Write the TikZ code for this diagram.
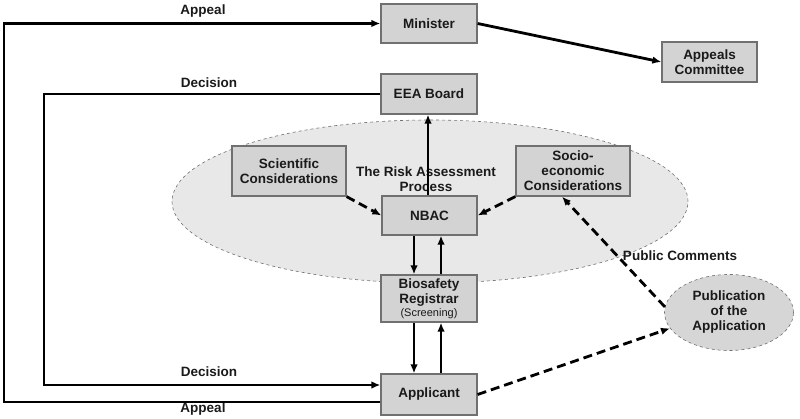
\documentclass[tikz,border=0pt]{standalone}
\usepackage{fontspec}
\setmainfont{Liberation Sans}
\usetikzlibrary{arrows.meta,shapes.geometric}
\definecolor{boxfill}{HTML}{D3D3D3}
\definecolor{boxline}{HTML}{707070}
\definecolor{ellfill}{HTML}{E8E8E8}
\definecolor{pubfill}{HTML}{D6D6D6}
\definecolor{txt}{HTML}{1A1A1A}
\tikzset{
  box/.style={draw=boxline, fill=boxfill, line width=1.2pt, inner sep=0pt, align=center,
    text=txt, font=\fontsize{13.5}{15}\selectfont\bfseries},
  lbl/.style={text=txt, font=\fontsize{13.5}{15}\selectfont\bfseries, inner sep=0pt, align=center},
  arr/.style={line width=2.8pt, -{Latex[length=9pt,width=7.5pt]}},
  darr/.style={line width=2.8pt, dash pattern=on 9pt off 5pt, -{Latex[length=9pt,width=7.5pt]}},
}
\begin{document}
\begin{tikzpicture}[x=1pt,y=-1pt]
\useasboundingbox (0,0) rectangle (800,419);
% big ellipse
\node[ellipse, draw=boxline, fill=ellfill, dashed, line width=0.6pt, minimum width=516pt, minimum height=163pt, inner sep=0pt] (risk) at (430,201.5) {};
% boxes
\node[box, minimum width=96pt, minimum height=39pt] (min) at (429,23.5) {Minister};
\node[box, minimum width=95pt, minimum height=40pt] (com) at (709.5,62) {Appeals\\Committee};
\node[box, minimum width=96pt, minimum height=40pt] (eea) at (429,94) {EEA Board};
\node[box, minimum width=114pt, minimum height=50pt] (sci) at (289,171) {Scientific\\Considerations};
\node[box, minimum width=114pt, minimum height=50pt] (soc) at (573,171) {Socio-\\economic\\Considerations};
\node[box, minimum width=95pt, minimum height=39pt] (nbac) at (429.5,215.5) {NBAC};
\node[box, minimum width=96pt, minimum height=47pt] (reg) at (429,298.5) {Biosafety\\Registrar\\[-2pt]{\fontsize{11}{12}\selectfont\mdseries (Screening)}};
\node[box, minimum width=96pt, minimum height=41pt] (app) at (429,394.5) {Applicant};
\node[ellipse, draw=boxline, fill=pubfill, dashed, line width=0.6pt, minimum width=129pt, minimum height=76pt, inner sep=0pt, align=center, text=txt, font=\fontsize{13.5}{15}\selectfont\bfseries] (pub) at (729,312.5) {Publication\\of the\\Application};
% labels
\node[lbl] (lrisk) at (426,179.5) {The Risk Assessment\\Process};
\node[lbl] (lap1) at (203,11) {Appeal};
\node[lbl] (ldec1) at (209,83) {Decision};
\node[lbl] (ldec2) at (209,372) {Decision};
\node[lbl] (lap2) at (203,409) {Appeal};
\node[lbl] (lpub) at (680,256) {Public Comments};
% corner coordinates
\coordinate (c1) at (4,23.5);
\coordinate (c2) at (44,94);
% connectors
\draw[arr] ([yshift=-7.5pt]app.west) -| (c1) -- (min.west);
\draw[arr] (eea.west) -- (c2) |- ([yshift=9.5pt]app.west);
\draw[arr] (min.east) -- (com.west);
\draw[arr] ([xshift=-1.5pt]nbac.north) -- ([xshift=-1pt]eea.south);
\draw[arr] ([xshift=-15.5pt]nbac.south) -- ([xshift=-15pt]reg.north);
\draw[arr] ([xshift=12pt]reg.north) -- ([xshift=11.5pt]nbac.south);
\draw[arr] ([xshift=-15pt]reg.south) -- ([xshift=-15pt]app.north);
\draw[arr] ([xshift=12pt]app.north) -- ([xshift=12pt]reg.south);
\draw[darr] (sci.south east) -- (nbac.west);
\draw[darr] (soc.south west) -- (nbac.east);
\draw[darr] (pub.175) -- ([xshift=-11pt]soc.south);
\draw[darr] (app.east) -- (pub.195);
\end{tikzpicture}
\end{document}
